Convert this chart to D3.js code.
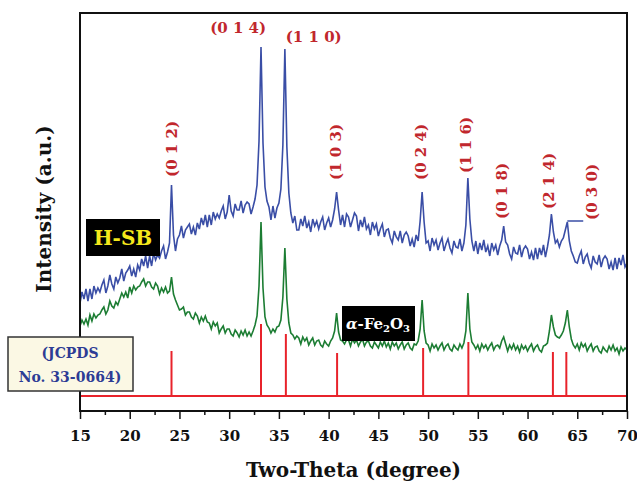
<!DOCTYPE html>
<html lang="en">
<head>
<meta charset="UTF-8">
<title>XRD pattern - H-SB and alpha-Fe2O3</title>
<script src="https://cdn.jsdelivr.net/npm/d3@7"></script>
<style>
    body { margin: 0; background: #fff; }
    svg { display: block; font-family: "DejaVu Serif", serif; font-weight: bold; }
    .hkl { font-size: 15px; fill: #c1272d; }
    .tick text { font-size: 15px; font-family: "DejaVu Serif", serif; font-weight: bold; fill: #111; }
    .tick line { stroke: #111; stroke-width: 1.5px; }
    .title { font-size: 20px; fill: #111; }
</style>
</head>
<body>
<svg id="chart" width="637" height="484"></svg>
<script>
// 2-theta grid: 15.0 -> 70.0 every 0.2 degree (one group of five = one degree)
const thetaStart = 15, thetaStep = 0.2;

// H-SB pattern (blue), arbitrary units
const hsb = [
    108, 119, 112, 122, 110,  122, 112, 125, 118, 123,  119, 126, 131, 118, 125,
    136, 127, 122, 134, 128,  133, 142, 130, 138, 141,  145, 135, 142, 134, 146,
    141, 152, 145, 155, 143,  155, 145, 158, 151, 156,  153, 160, 165, 152, 159,
    168, 226, 176, 160, 172,  176, 185, 173, 181, 184,  187, 177, 184, 176, 188,
    182, 193, 186, 196, 184,  196, 186, 199, 192, 197,  193, 200, 205, 192, 199,
    216, 200, 195, 207, 201,  201, 210, 198, 206, 209,  207, 197, 204, 212, 226,
    270, 364, 268, 224, 210,  204, 191, 205, 193, 203,  208, 222, 266, 362, 264,
    218, 198, 188, 195, 181,  181, 192, 185, 195, 183,  189, 179, 192, 185, 190,
    182, 189, 194, 181, 188,  193, 184, 191, 202, 219,  201, 186, 196, 184, 197,
    194, 184, 191, 198, 195,  180, 191, 184, 194, 182,  186, 176, 189, 182, 187,
    175, 182, 187, 174, 181,  182, 173, 168, 180, 174,  171, 180, 168, 176, 179,
    175, 165, 172, 164, 176,  170, 190, 219, 189, 168,  170, 160, 173, 166, 171,
    161, 168, 173, 160, 167,  172, 163, 158, 170, 164,  163, 172, 160, 168, 186,
    233, 192, 170, 160, 170,  157, 168, 161, 171, 159,  165, 155, 168, 161, 166,
    156, 165, 171, 185, 169,  166, 157, 152, 164, 158,  157, 166, 154, 162, 165,
    162, 152, 159, 151, 163,  152, 163, 156, 166, 154,  164, 176, 197, 179, 168,
    171, 164, 170, 173, 181,  189, 170, 160, 155, 149,  148, 155, 160, 147, 154,
    157, 148, 143, 155, 149,  147, 156, 144, 152, 155,  152, 142, 149, 141, 153,
    142, 153, 146, 156, 144,  148
];

// alpha-Fe2O3 pattern (green), arbitrary units
const fe2o3 = [
    85, 91, 87, 92, 86,   96, 90, 97, 93, 96,   97, 101, 104, 97, 101,
    110, 105, 103, 109, 106,   112, 118, 114, 119, 113,   124, 118, 125, 121, 124,
    125, 129, 132, 125, 129,   129, 124, 122, 128, 125,   117, 123, 119, 124, 118,
    120, 134, 117, 111, 106,   101, 102, 104, 96, 99,   99, 94, 92, 98, 95,
    88, 94, 90, 95, 89,   88, 82, 89, 85, 88,   78, 82, 85, 78, 82,
    82, 77, 75, 81, 78,   74, 80, 76, 81, 75,   79, 75, 80, 86, 95,
    125, 189, 123, 94, 86,   83, 78, 82, 79, 84,   85, 91, 114, 163, 112,
    88, 78, 76, 72, 75,   73, 67, 74, 70, 73,   66, 70, 73, 66, 70,
    71, 66, 64, 70, 67,   65, 70, 73, 80, 98,   79, 71, 70, 67, 71,
    71, 65, 72, 68, 71,   65, 69, 72, 65, 69,   70, 65, 63, 69, 66,
    63, 69, 65, 70, 64,   68, 62, 69, 65, 68,   62, 66, 69, 62, 66,
    68, 63, 61, 67, 66,   70, 82, 111, 80, 68,   66, 60, 67, 63, 66,
    61, 65, 68, 61, 65,   67, 62, 60, 66, 63,   61, 67, 63, 68, 80,
    118, 82, 69, 66, 62,   66, 60, 67, 63, 66,   61, 65, 68, 61, 65,
    66, 63, 70, 74, 67,   60, 66, 62, 67, 61,   65, 59, 66, 62, 65,
    60, 64, 67, 60, 64,   66, 61, 59, 65, 66,   68, 80, 96, 84, 76,
    74, 73, 76, 80, 88,   101, 84, 72, 66, 63,   67, 61, 68, 64, 67,
    60, 64, 67, 60, 64,   65, 60, 58, 64, 61,   59, 65, 61, 66, 60,
    63, 57, 64, 60, 63,   61
];

// JCPDS No. 33-0664 reference lines
const jcpdsTheta = [24.2, 33.2, 35.7, 40.85, 49.5, 54.05, 62.55, 63.9];
const jcpdsTop = [60, 87, 77, 58, 63, 69, 59, 59];
const jcpdsBase = 15;

const xTicks = [15, 20, 25, 30, 35, 40, 45, 50, 55, 60, 65, 70];
const xMinorTicks = [17.5, 22.5, 27.5, 32.5, 37.5, 42.5, 47.5, 52.5, 57.5, 62.5, 67.5];

// Miller index labels
const hklLabels = [
    { text: "(0 1 2)", theta: 24.25, inten: 262, vertical: true },
    { text: "(0 1 4)", theta: 30.9, inten: 383, vertical: false },
    { text: "(1 1 0)", theta: 38.5, inten: 374, vertical: false },
    { text: "(1 0 3)", theta: 40.75, inten: 259, vertical: true },
    { text: "(0 2 4)", theta: 49.3, inten: 259, vertical: true },
    { text: "(1 1 6)", theta: 53.8, inten: 266, vertical: true },
    { text: "(0 1 8)", theta: 57.4, inten: 220, vertical: true },
    { text: "(2 1 4)", theta: 62.2, inten: 230, vertical: true },
    { text: "(0 3 0)", theta: 66.5, inten: 219, vertical: true }
];

const svg = d3.select("#chart");
const margin = { top: 13, right: 10, bottom: 73, left: 80 };
const W = 637, H = 484;

const x = d3.scaleLinear().domain([15, 70]).range([margin.left, W - margin.right]);
const y = d3.scaleLinear().domain([0, 398]).range([H - margin.bottom, margin.top]);

const thetaAt = i => thetaStart + i * thetaStep;
const line = d3.line().x((d, i) => x(thetaAt(i))).y(d => y(d));

// reference sticks
svg.append("line")
    .attr("x1", x(15)).attr("x2", x(70))
    .attr("y1", y(jcpdsBase)).attr("y2", y(jcpdsBase))
    .attr("stroke", "#e8232b").attr("stroke-width", 2);

svg.append("g").selectAll("line")
    .data(jcpdsTheta)
    .enter().append("line")
    .attr("x1", d => x(d)).attr("x2", d => x(d))
    .attr("y1", y(jcpdsBase)).attr("y2", (d, i) => y(jcpdsTop[i]))
    .attr("stroke", "#e8232b").attr("stroke-width", 2);

// patterns
svg.append("path").datum(fe2o3)
    .attr("d", line).attr("fill", "none")
    .attr("stroke", "#1c7d33").attr("stroke-width", 1.6);

svg.append("path").datum(hsb)
    .attr("d", line).attr("fill", "none")
    .attr("stroke", "#3a4ea6").attr("stroke-width", 1.6);

// leader line of the (0 3 0) label
svg.append("line")
    .attr("x1", x(64.0)).attr("x2", x(65.6))
    .attr("y1", y(190)).attr("y2", y(190))
    .attr("stroke", "#3a4ea6").attr("stroke-width", 1.5);

// frame
svg.append("rect")
    .attr("x", margin.left).attr("y", margin.top)
    .attr("width", W - margin.left - margin.right)
    .attr("height", H - margin.top - margin.bottom)
    .attr("fill", "none").attr("stroke", "#111").attr("stroke-width", 2);

// x axis: major and minor ticks in their own groups
const gx = svg.append("g").attr("transform", `translate(0,${H - margin.bottom})`)
    .call(d3.axisBottom(x).tickValues(xTicks).tickSize(8).tickPadding(11).tickFormat(d3.format("d")));
gx.select(".domain").remove();

const gxMinor = svg.append("g").attr("transform", `translate(0,${H - margin.bottom})`)
    .call(d3.axisBottom(x).tickValues(xMinorTicks).tickSize(4).tickFormat(""));
gxMinor.select(".domain").remove();

// hkl labels
svg.append("g").selectAll("text")
    .data(hklLabels)
    .enter().append("text")
    .attr("class", "hkl")
    .attr("text-anchor", "middle")
    .attr("dominant-baseline", "central")
    .attr("transform", d => `translate(${x(d.theta)},${y(d.inten)})` + (d.vertical ? " rotate(-90)" : ""))
    .text(d => d.text);

// sample tags
svg.append("rect").attr("x", 86).attr("y", 219).attr("width", 74).attr("height", 37).attr("fill", "#000");
svg.append("text").attr("x", 123).attr("y", 238)
    .attr("text-anchor", "middle").attr("dominant-baseline", "central")
    .attr("font-size", 20).attr("fill", "#f4e81c").text("H-SB");

svg.append("rect").attr("x", 342).attr("y", 306).attr("width", 73).attr("height", 35).attr("fill", "#000");
const fe = svg.append("text").attr("x", 378).attr("y", 329)
    .attr("text-anchor", "middle").attr("font-size", 15).attr("fill", "#fff");
fe.append("tspan").attr("font-style", "italic").text("α");
fe.append("tspan").text("-Fe");
fe.append("tspan").attr("font-size", 10).attr("dy", 3).text("2");
fe.append("tspan").attr("dy", -3).text("O");
fe.append("tspan").attr("font-size", 10).attr("dy", 3).text("3");

// JCPDS box
svg.append("rect").attr("x", 8).attr("y", 337).attr("width", 125).attr("height", 54)
    .attr("fill", "#fbf8e4").attr("stroke", "#333").attr("stroke-width", 1.5);
const jc = svg.append("text").attr("text-anchor", "middle").attr("font-size", 14).attr("fill", "#2d3c95");
jc.append("tspan").attr("x", 70).attr("y", 358).text("(JCPDS");
jc.append("tspan").attr("x", 70).attr("y", 382).text("No. 33-0664)");

// axis titles
svg.append("text").attr("class", "title")
    .attr("x", (margin.left + W - margin.right) / 2).attr("y", 477)
    .attr("text-anchor", "middle").text("Two-Theta (degree)");

svg.append("text").attr("class", "title")
    .attr("transform", "translate(51,209) rotate(-90)")
    .attr("text-anchor", "middle").text("Intensity (a.u.)");
</script>
</body>
</html>
